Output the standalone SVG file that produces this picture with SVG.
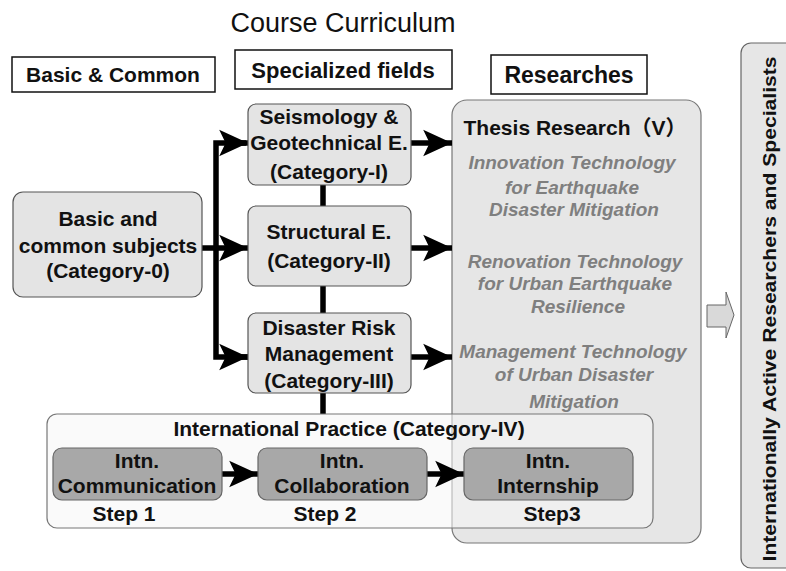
<svg xmlns="http://www.w3.org/2000/svg" width="786" height="571" viewBox="0 0 786 571">
<defs>
<style>
text{font-family:"Liberation Sans",Arial,"Noto Sans CJK JP",sans-serif;text-anchor:middle;fill:#111}
.b{font-weight:bold;font-size:21px}
.h{font-weight:bold;font-size:21px}
.it{font-weight:bold;font-style:italic;font-size:19px;fill:#7f7f7f}
.hdr{fill:#fff;stroke:#111;stroke-width:1.5}
.node{fill:#e4e4e4;stroke:#555;stroke-width:1.2}
.intn{fill:#a8a8a8;stroke:#666;stroke-width:1.2}
.conn{stroke:#000;stroke-width:5.5;fill:none}
</style>
<marker id="ah" markerUnits="userSpaceOnUse" markerWidth="32" markerHeight="30" viewBox="-1 -14 30 28" refX="27" refY="0" orient="auto">
<path d="M0,-12.5 L27,0 L0,12.5 L6,0 Z" fill="#000"/>
</marker>
</defs>

<text x="343" y="32" style="font-size:27px">Course Curriculum</text>

<g id="hdr-basic"><rect class="hdr" x="12" y="57" width="203" height="35"/><text class="h" x="113" y="82">Basic &amp; Common</text></g>
<g id="hdr-spec"><rect class="hdr" x="235" y="50" width="217" height="39"/><text class="h" x="343" y="78" style="font-size:22px">Specialized fields</text></g>
<g id="hdr-res"><rect class="hdr" x="491" y="55" width="156" height="39"/><text class="h" x="569" y="83" style="font-size:23px">Researches</text></g>

<g id="outcome">
<rect x="741" y="43" width="70" height="525" rx="10" fill="#e6e6e6" stroke="#666" stroke-width="1.2"/>
<text class="b" transform="translate(776,309) rotate(-90)" style="font-size:19px" textLength="505" lengthAdjust="spacingAndGlyphs">Internationally Active Researchers and Specialists</text>
</g>

<g id="block-arrow"><path d="M707,305 L726,305 L726,292 L734,315 L726,338 L726,327 L707,327 Z" fill="#d9d9d9" stroke="#666" stroke-width="1"/></g>

<g id="thesis">
<rect x="452" y="100" width="249" height="443" rx="15" fill="#e6e6e6" stroke="#777" stroke-width="1.2"/>
<text class="b" x="575" y="135">Thesis Research（V）</text>
<text class="it" x="572" y="169">Innovation Technology</text>
<text class="it" x="572" y="194">for Earthquake</text>
<text class="it" x="574" y="216">Disaster Mitigation</text>
<text class="it" x="575" y="268">Renovation Technology</text>
<text class="it" x="575" y="290">for Urban Earthquake</text>
<text class="it" x="578" y="313">Resilience</text>
<text class="it" x="573" y="358">Management Technology</text>
<text class="it" x="574" y="381">of Urban Disaster</text>
<text class="it" x="574" y="408">Mitigation</text>
</g>

<g id="connectors">
<line class="conn" x1="323" y1="185" x2="323" y2="206"/>
<line class="conn" x1="323" y1="286" x2="323" y2="313"/>
<line class="conn" x1="323" y1="393" x2="323" y2="414"/>
<line class="conn" x1="202" y1="248" x2="248" y2="248" marker-end="url(#ah)"/>
<polyline class="conn" points="246,143 216,143 216,357 248,357" style="stroke-linejoin:miter"/>
<line class="conn" x1="225" y1="143" x2="248" y2="143" marker-end="url(#ah)"/>
<line class="conn" x1="225" y1="357" x2="248" y2="357" marker-end="url(#ah)"/>
<line class="conn" x1="411" y1="143" x2="452" y2="143" marker-end="url(#ah)"/>
<line class="conn" x1="411" y1="248" x2="452" y2="248" marker-end="url(#ah)"/>
<line class="conn" x1="411" y1="357" x2="452" y2="357" marker-end="url(#ah)"/>
</g>

<g id="n-seis"><rect class="node" x="248" y="104" width="163" height="81" rx="8"/>
<text class="b" x="329" y="124">Seismology &amp;</text><text class="b" x="329" y="150">Geotechnical E.</text><text class="b" x="329" y="179">(Category-I)</text></g>
<g id="n-struct"><rect class="node" x="248" y="206" width="163" height="80" rx="8"/>
<text class="b" x="329" y="239">Structural E.</text><text class="b" x="329" y="268">(Category-II)</text></g>
<g id="n-drm"><rect class="node" x="248" y="313" width="163" height="80" rx="8"/>
<text class="b" x="329" y="335">Disaster Risk</text><text class="b" x="329" y="361">Management</text><text class="b" x="329" y="388">(Category-III)</text></g>
<g id="n-basic"><rect class="node" x="13" y="192" width="189" height="105" rx="10"/>
<text class="b" x="108" y="226">Basic and</text><text class="b" x="108" y="253">common subjects</text><text class="b" x="108" y="278">(Category-0)</text></g>

<g id="intl">
<rect x="47" y="414" width="606" height="114" rx="10" fill="#f6f6f6" fill-opacity="0.55" stroke="#777" stroke-width="1.2"/>
<text class="b" x="349" y="436">International Practice (Category-IV)</text>
</g>
<g id="connectors-intl">
<line class="conn" x1="222" y1="474" x2="258" y2="474" marker-end="url(#ah)"/>
<line class="conn" x1="427" y1="474" x2="464" y2="474" marker-end="url(#ah)"/>
</g>
<g id="n-comm"><rect class="intn" x="53" y="448" width="169" height="52" rx="9"/>
<text class="b" x="137" y="468">Intn.</text><text class="b" x="137" y="493">Communication</text><text class="b" x="124" y="521">Step 1</text></g>
<g id="n-collab"><rect class="intn" x="258" y="448" width="169" height="52" rx="9"/>
<text class="b" x="342" y="468">Intn.</text><text class="b" x="342" y="493">Collaboration</text><text class="b" x="325" y="521">Step 2</text></g>
<g id="n-intern"><rect class="intn" x="464" y="448" width="169" height="52" rx="9"/>
<text class="b" x="548" y="468">Intn.</text><text class="b" x="548" y="493">Internship</text><text class="b" x="552" y="521">Step3</text></g>
</svg>
